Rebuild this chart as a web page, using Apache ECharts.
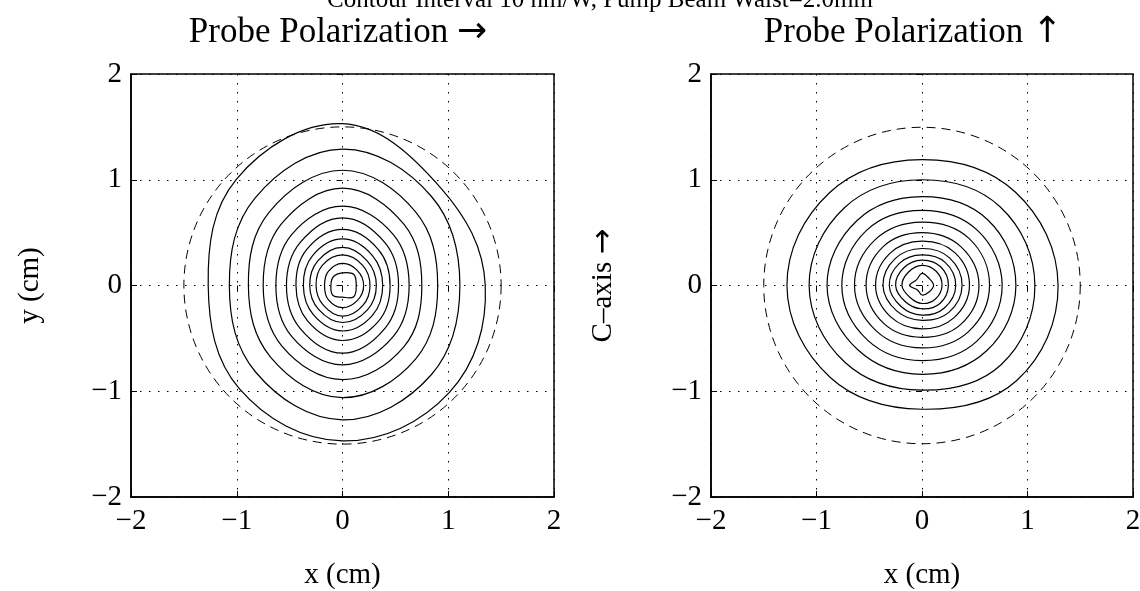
<!DOCTYPE html>
<html>
<head>
<meta charset="utf-8">
<script src="https://cdn.jsdelivr.net/npm/echarts@6/dist/echarts.min.js"></script>
<style>
  html, body { margin: 0; padding: 0; background: #fff; }
  #container { width: 1140px; height: 591px; }
</style>
</head>
<body>
<div id="container"></div>
<script>
// contour radii (cm), at these angles (deg) around (0,0)
var angles = [0, 45, 90, 135, 180, 225, 270, 315];
var axisTicks = [-2, -1, 0, 1, 2];
var guideCircle = [[0, 0, 1.5]];   // dashed reference circle: cx, cy, r

// probe polarization horizontal
var leftContours = [
    [1.35, 1.31, 1.53, 1.42, 1.27, 1.38, 1.47, 1.43],
    [1.11, 1.19, 1.29, 1.17, 1.07, 1.16, 1.27, 1.19],
    [0.90, 0.98, 1.09, 0.98, 0.89, 0.96, 1.06, 0.98],
    [0.75, 0.82, 0.92, 0.82, 0.75, 0.81, 0.89, 0.82],
    [0.63, 0.68, 0.75, 0.68, 0.63, 0.68, 0.75, 0.68],
    [0.53, 0.57, 0.64, 0.57, 0.53, 0.57, 0.64, 0.57],
    [0.45, 0.48, 0.53, 0.48, 0.44, 0.47, 0.52, 0.48],
    [0.38, 0.40, 0.44, 0.40, 0.37, 0.39, 0.43, 0.40],
    [0.32, 0.33, 0.36, 0.33, 0.31, 0.32, 0.35, 0.33],
    [0.26, 0.27, 0.29, 0.27, 0.25, 0.26, 0.29, 0.27],
    [0.20, 0.20, 0.21, 0.19, 0.17, 0.19, 0.21, 0.20],
    [0.13, 0.15, 0.12, 0.12, 0.11, 0.13, 0.11, 0.15]
];

// probe polarization vertical
var rightContours = [
    [1.29, 1.25, 1.19, 1.24, 1.28, 1.23, 1.17, 1.27],
    [1.07, 1.05, 1.00, 1.04, 1.07, 1.03, 0.99, 1.06],
    [0.89, 0.88, 0.84, 0.87, 0.90, 0.86, 0.84, 0.87],
    [0.76, 0.74, 0.71, 0.74, 0.76, 0.73, 0.71, 0.74],
    [0.64, 0.63, 0.60, 0.62, 0.64, 0.61, 0.59, 0.62],
    [0.54, 0.52, 0.50, 0.52, 0.53, 0.51, 0.49, 0.52],
    [0.45, 0.44, 0.42, 0.43, 0.44, 0.42, 0.41, 0.43],
    [0.38, 0.37, 0.35, 0.36, 0.37, 0.34, 0.33, 0.36],
    [0.32, 0.31, 0.29, 0.30, 0.31, 0.28, 0.28, 0.30],
    [0.25, 0.25, 0.24, 0.24, 0.25, 0.22, 0.22, 0.24],
    [0.19, 0.19, 0.19, 0.18, 0.19, 0.16, 0.17, 0.18],
    [0.11, 0.095, 0.115, 0.075, 0.117, 0.06, 0.09, 0.09]
];

var serif = "'Liberation Serif', 'Times New Roman', serif";
var arrowFont = "'DejaVu Sans', sans-serif";

function fmt(v) {
    return v < 0 ? '\u2212' + (-v) : String(v);
}

function makeAxis(idx, name, gap, margin) {
    return {
        gridIndex: idx,
        type: 'value',
        min: axisTicks[0],
        max: axisTicks[axisTicks.length - 1],
        interval: 1,
        name: name,
        nameLocation: 'middle',
        nameGap: gap,
        nameTextStyle: {
            fontFamily: serif, fontSize: 29, color: '#000',
            rich: { arr: { fontFamily: arrowFont, fontSize: 31, color: '#000' } }
        },
        axisLine: { show: true, onZero: false, lineStyle: { color: '#000', width: 1.5 } },
        axisTick: { show: true, inside: true, length: 6, lineStyle: { color: '#000' } },
        axisLabel: { fontFamily: serif, fontSize: 29, color: '#000', margin: margin, formatter: fmt },
        splitLine: { show: true, lineStyle: { type: [1.5, 7.5], color: '#000', width: 1 } }
    };
}

// mirrored tick marks on the top / right edges of each box
function mirrorAxis(idx, pos) {
    return {
        gridIndex: idx,
        type: 'value',
        position: pos,
        min: axisTicks[0],
        max: axisTicks[axisTicks.length - 1],
        interval: 1,
        axisLine: { show: false },
        axisTick: { show: true, inside: true, length: 6, lineStyle: { color: '#000' } },
        axisLabel: { show: false },
        splitLine: { show: false }
    };
}

function contourSeries(idx, rings) {
    return {
        type: 'custom',
        xAxisIndex: idx,
        yAxisIndex: idx,
        silent: true,
        data: rings,
        renderItem: function (params, api) {
            var pts = [];
            for (var k = 0; k < angles.length; k++) {
                var a = angles[k] * Math.PI / 180;
                var r = api.value(k);
                pts.push(api.coord([r * Math.cos(a), r * Math.sin(a)]));
            }
            return {
                type: 'polygon',
                shape: { points: pts, smooth: 0.38 },
                style: { fill: 'none', stroke: '#000', lineWidth: 1.2 }
            };
        }
    };
}

function circleSeries(idx) {
    return {
        type: 'custom',
        xAxisIndex: idx,
        yAxisIndex: idx,
        silent: true,
        data: guideCircle,
        renderItem: function (params, api) {
            var c = api.coord([api.value(0), api.value(1)]);
            var r = api.size([api.value(2), 0])[0];
            return {
                type: 'circle',
                shape: { cx: c[0], cy: c[1], r: r },
                style: { fill: 'none', stroke: '#000', lineWidth: 1, lineDash: [9, 6] }
            };
        }
    };
}

function heading(x, y, text) {
    return {
        type: 'text', x: x, y: y,
        style: {
            text: text, fontFamily: serif, fontSize: 35, fill: '#000',
            textAlign: 'center', textVerticalAlign: 'middle',
            rich: { arr: { fontFamily: arrowFont, fontSize: 36, fill: '#000' } }
        }
    };
}

var dom = document.getElementById('container');
var myChart = echarts.init(dom);

var option = {
    backgroundColor: '#fff',
    animation: false,
    grid: [
        { left: 131, top: 74, width: 423, height: 423, show: true, borderColor: '#000', borderWidth: 1.5, containLabel: false, outerBoundsMode: 'none' },
        { left: 711, top: 74, width: 422, height: 423, show: true, borderColor: '#000', borderWidth: 1.5, containLabel: false, outerBoundsMode: 'none' }
    ],
    xAxis: [
        makeAxis(0, 'x (cm)', 64, 10),
        makeAxis(1, 'x (cm)', 64, 10),
        mirrorAxis(0, 'top'),
        mirrorAxis(1, 'top')
    ],
    yAxis: [
        makeAxis(0, 'y (cm)', 86, 9),
        makeAxis(1, 'C\u2013axis {arr|\u2192}', 92, 9),
        mirrorAxis(0, 'right'),
        mirrorAxis(1, 'right')
    ],
    graphic: [
        { type: 'text', x: 600, y: 0, style: { text: 'Contour Interval 10 nm/W, Pump Beam Waist=2.0mm', fontFamily: serif, fontSize: 25, fill: '#000', textAlign: 'center', textVerticalAlign: 'middle' } },
        heading(338, 33, 'Probe Polarization {arr|\u2192}'),
        heading(913, 33, 'Probe Polarization {arr|\u2191}')
    ],
    series: [
        contourSeries(0, leftContours),
        circleSeries(0),
        contourSeries(1, rightContours),
        circleSeries(1)
    ]
};

myChart.setOption(option, true);
</script>
</body>
</html>
